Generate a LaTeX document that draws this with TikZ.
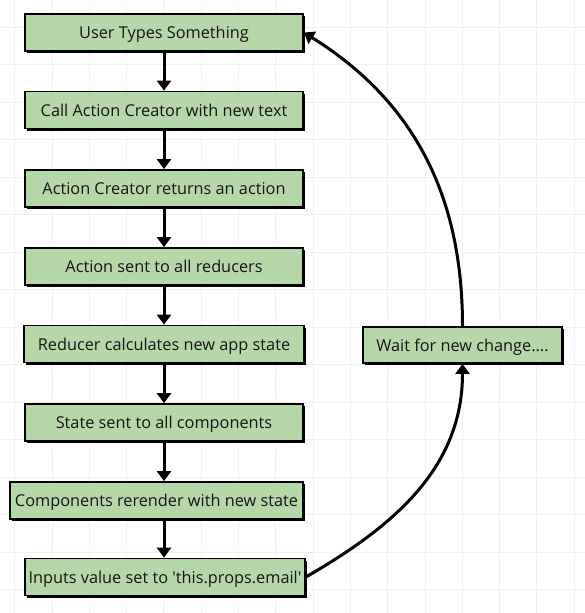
\documentclass[tikz,border=0pt]{standalone}
\usepackage{fontspec}
\setmainfont{Open Sans}
\usetikzlibrary{arrows.meta,shadows}
\definecolor{boxgreen}{HTML}{B6D7A8}
\definecolor{gridgray}{HTML}{F0F0F0}
\definecolor{txt}{HTML}{151515}
\begin{document}
\begin{tikzpicture}[x=1pt,y=-1pt,
  box/.style={draw=black, line width=1.8pt, fill=boxgreen, minimum height=37pt,
    inner sep=0pt, text=txt, font=\fontsize{16.3}{19}\selectfont,
    text height=12.6pt, text depth=0.6pt,
    drop shadow={shadow xshift=2.4pt, shadow yshift=-2.4pt, fill=black, opacity=1}},
  arr/.style={line width=3pt, -{Triangle[width=14pt,length=10pt]}}
]
\useasboundingbox (0,0) rectangle (585,613);
\fill[white] (0,0) rectangle (585,613);
% grid
\foreach \i in {0,...,15} {
  \draw[gridgray, line width=0.7pt] ({14.6+37.3*\i},0) -- ({14.6+37.3*\i},613);
}
\foreach \j in {-1,...,16} {
  \draw[gridgray, line width=0.7pt] (0,{27+37.5*\j}) -- (585,{27+37.5*\j});
}
\node[box, minimum width=278pt] (b1) at (164,32.5) {User Types Something};
\node[box, minimum width=278pt] (b2) at (164,110) {Call Action Creator with new text};
\node[box, minimum width=278pt] (b3) at (164,188.5) {Action Creator returns an action};
\node[box, minimum width=278pt] (b4) at (164,266.5) {Action sent to all reducers};
\node[box, minimum width=280pt] (b5) at (164,344) {Reducer calculates new app state};
\node[box, minimum width=278pt] (b6) at (164,422.5) {State sent to all components};
\node[box, minimum width=293pt] (b7) at (156.5,500.5) {Components rerender with new state};
\node[box, minimum width=280pt] (b8) at (165,577) {Inputs value set to \textquotesingle this.props.email\textquotesingle};
\node[box, minimum width=199pt, minimum height=36pt] (w) at (462.5,345) {Wait for new change....};

\draw[arr] (b1) -- (b2);
\draw[arr] (b2) -- (b3);
\draw[arr] (b3) -- (b4);
\draw[arr] (b4) -- (b5);
\draw[arr] (b5) -- (b6);
\draw[arr] (b6.south) -- (b6.south |- b7.north);
\draw[arr] (b6.south |- b7.south) -- (b6.south |- b8.north);
\draw[arr] (b8.east) to[out=30, in=-90] (w.south);
\draw[arr] (w.north) to[out=90, in=-32] (b1.east);
\end{tikzpicture}
\end{document}
